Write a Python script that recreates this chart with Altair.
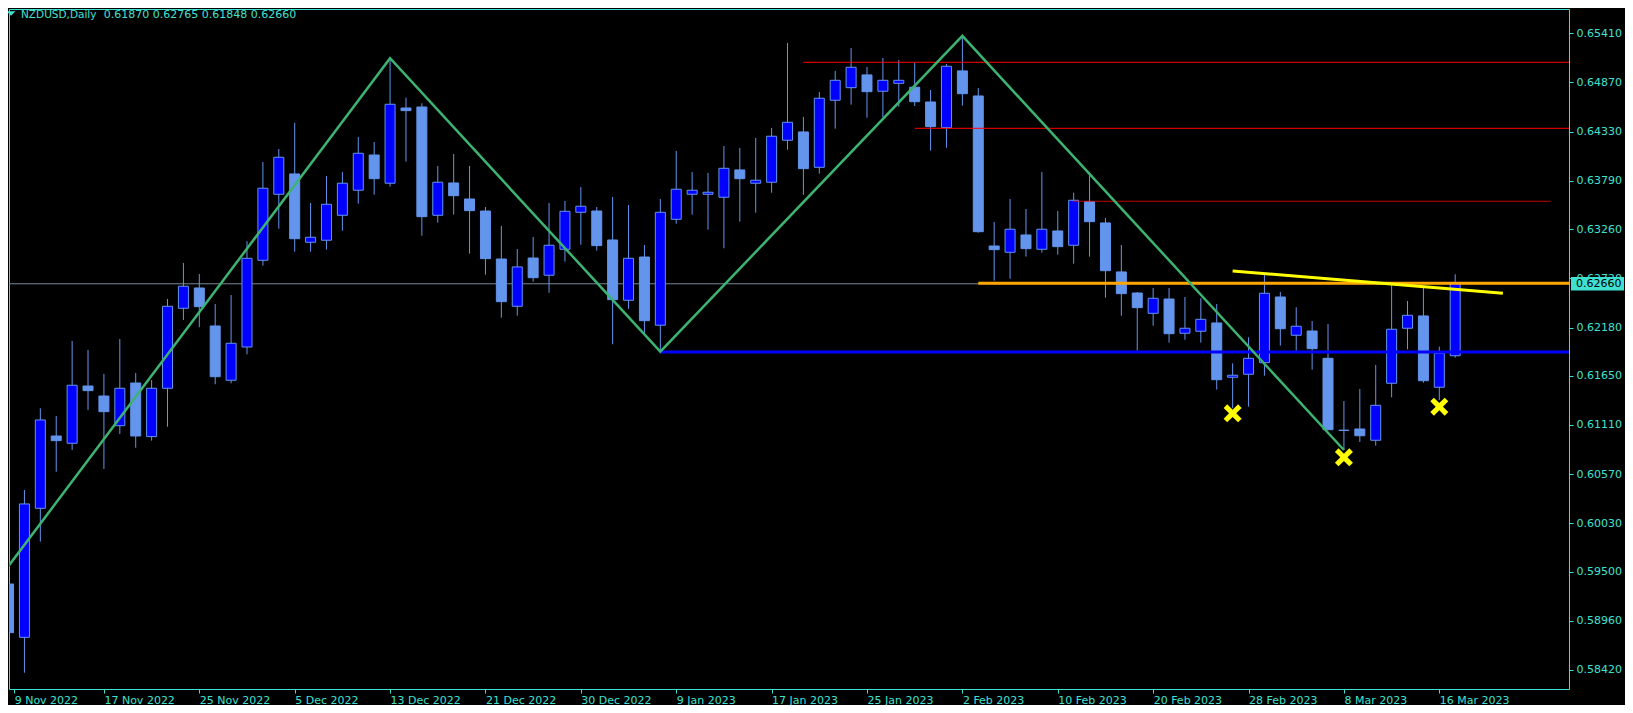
import altair as alt
import pandas as pd

# ---------------- data ----------------
symbol = "NZDUSD"
timeframe = "Daily"

opens = [0.59364, 0.58779, 0.60195, 0.60989, 0.60909, 0.61538, 0.61428, 0.61102, 0.61571, 0.60982,
         0.61513, 0.62391, 0.62614, 0.62197, 0.61601, 0.61966, 0.62918, 0.63643, 0.63866, 0.63116,
         0.63138, 0.63412, 0.63687, 0.64074, 0.63764, 0.64590, 0.64601, 0.63412, 0.63767, 0.63591,
         0.63459, 0.62932, 0.62413, 0.62943, 0.62754, 0.63039, 0.63445, 0.63459, 0.63141, 0.62479,
         0.62954, 0.62205, 0.63368, 0.63643, 0.63643, 0.63610, 0.63910, 0.63764, 0.63775, 0.64236,
         0.64327, 0.63939, 0.64675, 0.64813, 0.64953, 0.64774, 0.64861, 0.64818, 0.64656, 0.64374,
         0.64997, 0.64722, 0.63075, 0.63006, 0.63196, 0.63039, 0.63240, 0.63083, 0.63562, 0.63328,
         0.62790, 0.62559, 0.62336, 0.62493, 0.62117, 0.62139, 0.62230, 0.61634, 0.61667, 0.61794,
         0.62515, 0.62095, 0.62142, 0.61842, 0.61053, 0.61066, 0.60942, 0.61568, 0.62172, 0.62307,
         0.61524, 0.61870]

highs = [0.59683, 0.60396, 0.61293, 0.61209, 0.62032, 0.61933, 0.61670, 0.62054, 0.61681, 0.61604,
         0.62493, 0.62889, 0.62768, 0.62438, 0.62537, 0.63127, 0.63997, 0.64140, 0.64426, 0.63547,
         0.63844, 0.63888, 0.64272, 0.64217, 0.65136, 0.64703, 0.64642, 0.63954, 0.64085, 0.63954,
         0.63503, 0.63295, 0.63042, 0.63174, 0.63547, 0.63569, 0.63723, 0.63503, 0.63613, 0.63525,
         0.63086, 0.63591, 0.64118, 0.63888, 0.63877, 0.64173, 0.64151, 0.64261, 0.64371, 0.65304,
         0.64492, 0.64766, 0.64997, 0.65249, 0.65040, 0.65139, 0.65117, 0.65088, 0.64788, 0.65073,
         0.65381, 0.64810, 0.63339, 0.63591, 0.63481, 0.63888, 0.63459, 0.63660, 0.63884, 0.63383,
         0.63086, 0.62570, 0.62614, 0.62614, 0.62515, 0.62501, 0.62438, 0.61787, 0.62073, 0.62757,
         0.62570, 0.62402, 0.62252, 0.62219, 0.61373, 0.61505, 0.61769, 0.62669, 0.62471, 0.62622,
         0.61970, 0.62765]

lows = [0.58717, 0.58390, 0.59829, 0.60597, 0.60835, 0.61275, 0.60627, 0.61011, 0.60861, 0.60938,
        0.61091, 0.62263, 0.62183, 0.61557, 0.61568, 0.61886, 0.62859, 0.63265, 0.63013, 0.63013,
        0.63035, 0.63243, 0.63540, 0.63638, 0.63726, 0.64001, 0.63188, 0.63331, 0.63419, 0.62991,
        0.62760, 0.62288, 0.62310, 0.62683, 0.62562, 0.62903, 0.63089, 0.63024, 0.61996, 0.62384,
        0.62117, 0.61915, 0.63320, 0.63419, 0.63254, 0.63050, 0.63342, 0.63441, 0.63660, 0.64132,
        0.63638, 0.63869, 0.64363, 0.64627, 0.64484, 0.64488, 0.64605, 0.64612, 0.64122, 0.64154,
        0.64616, 0.63221, 0.62694, 0.62716, 0.62958, 0.63002, 0.62980, 0.62881, 0.62958, 0.62508,
        0.62310, 0.61926, 0.62200, 0.62014, 0.62046, 0.62014, 0.61498, 0.61293, 0.61311, 0.61651,
        0.61981, 0.61926, 0.61717, 0.61055, 0.60835, 0.60923, 0.60883, 0.61414, 0.61941, 0.61574,
        0.61384, 0.61848]

closes = [0.58830, 0.60243, 0.61165, 0.60938, 0.61546, 0.61487, 0.61256, 0.61513, 0.60989, 0.61513,
          0.62413, 0.62633, 0.62409, 0.61640, 0.62007, 0.62940, 0.63709, 0.64049, 0.63155, 0.63171,
          0.63533, 0.63764, 0.64093, 0.63814, 0.64631, 0.64561, 0.63397, 0.63775, 0.63627, 0.63463,
          0.62936, 0.62464, 0.62845, 0.62727, 0.63083, 0.63456, 0.63511, 0.63079, 0.62486, 0.62940,
          0.62255, 0.63445, 0.63698, 0.63687, 0.63665, 0.63928, 0.63814, 0.63797, 0.64280, 0.64433,
          0.63924, 0.64697, 0.64894, 0.65037, 0.64769, 0.64894, 0.64894, 0.64659, 0.64385, 0.65048,
          0.64747, 0.63232, 0.63035, 0.63259, 0.63046, 0.63259, 0.63068, 0.63577, 0.63342, 0.62804,
          0.62552, 0.62398, 0.62501, 0.62112, 0.62172, 0.62270, 0.61607, 0.61656, 0.61842, 0.62556,
          0.62167, 0.62194, 0.61948, 0.61058, 0.61050, 0.60992, 0.61326, 0.62161, 0.62314, 0.61596,
          0.61897, 0.62660]

date_labels = ["9 Nov 2022", "17 Nov 2022", "25 Nov 2022", "5 Dec 2022", "13 Dec 2022",
               "21 Dec 2022", "30 Dec 2022", "9 Jan 2023", "17 Jan 2023", "25 Jan 2023",
               "2 Feb 2023", "10 Feb 2023", "20 Feb 2023", "28 Feb 2023", "8 Mar 2023",
               "16 Mar 2023"]
bars_per_label = 6

price_ticks = [0.65410, 0.64870, 0.64330, 0.63790, 0.63260, 0.62720, 0.62180,
               0.61650, 0.61110, 0.60570, 0.60030, 0.59500, 0.58960, 0.58420]

# zigzag (bar index, price)
zigzag_bar = [-0.094, 24, 41, 60, 84]
zigzag_price = [0.59540, 0.65136, 0.61915, 0.65381, 0.60835]

# red horizontal levels
red_price = [0.65092, 0.64367, 0.63566]
red_start = [50, 57, 67]
red_end = [99, 99, 97]

# orange / blue levels
orange_price = [0.62665]
orange_start = [61]
blue_price = [0.61910]
blue_start = [41]

# yellow trend line
trend_bar = [77, 94]
trend_price = [0.62801, 0.62556]

# yellow cross markers
cross_bar = [77, 84, 90]
cross_price = [0.61238, 0.60755, 0.61311]

# ---------------- tables ----------------
n = len(opens)
candles = pd.DataFrame({"bar": list(range(n)), "open": opens, "high": highs,
                        "low": lows, "close": closes})
candles["dir"] = ["up" if c >= o else "down" for o, c in zip(opens, closes)]

bid = closes[-1]
grey_df = pd.DataFrame({"price": [bid], "start": [-2], "end": [n + 8]})
red_df = pd.DataFrame({"price": red_price, "start": red_start, "end": red_end})
orange_df = pd.DataFrame({"price": orange_price, "start": orange_start, "end": [n + 8]})
blue_df = pd.DataFrame({"price": blue_price, "start": blue_start, "end": [n + 8]})
zz_df = pd.DataFrame({"bar": zigzag_bar, "price": zigzag_price})
trend_df = pd.DataFrame({"bar": trend_bar, "price": trend_price})
cross_df = pd.DataFrame({"bar": cross_bar, "price": cross_price})
name_df = pd.DataFrame({"t": [f"{symbol},{timeframe}"]})
ohlc_df = pd.DataFrame({"t": [f"{opens[-1]:.5f} {highs[-1]:.5f} {lows[-1]:.5f} {closes[-1]:.5f}"]})
tag_df = pd.DataFrame({"price": [bid], "label": [f"{bid:.5f}"]})

# ---------------- styling ----------------
FG = "#40E0D0"
FONT = "DejaVu Sans"
W, H = 1560, 680
X_MIN, X_MAX = 0.34375, 97.84375

# first date tick sits just left of the visible area; keep its label at the left edge
tick_bars = [max(k * bars_per_label, X_MIN + 0.01) for k in range(len(date_labels))]
label_expr = "[" + ",".join(f"'{d}'" for d in date_labels) + f"][round(datum.value/{bars_per_label})]"

X_SCALE = alt.Scale(domain=[X_MIN, X_MAX], nice=False, zero=False)
Y_SCALE = alt.Scale(domain=[0.582114, 0.656768], nice=False, zero=False)

x_axis = alt.Axis(values=tick_bars, labelExpr=label_expr, orient="bottom", title=None,
                  labelAlign="left", labelBaseline="top", labelPadding=1, tickSize=4,
                  labelFlush=False, labelOverlap=False)
y_axis = alt.Axis(values=price_ticks, format=".5f", orient="right", title=None,
                  labelAlign="left", labelBaseline="middle", labelPadding=3, tickSize=4,
                  labelFlush=False, labelOverlap=False)


def X(field):
    return alt.X(field, type="quantitative", scale=X_SCALE, axis=x_axis)


def Y(field):
    return alt.Y(field, type="quantitative", scale=Y_SCALE, axis=y_axis)


grey = alt.Chart(grey_df).mark_rule(color="#778899", strokeWidth=1, clip=True).encode(
    x=X("start"), x2="end", y=Y("price"))

wicks = alt.Chart(candles).mark_rule(color="#6495ED", strokeWidth=1, clip=True).encode(
    x=X("bar"), y=Y("low"), y2="high")

bodies = alt.Chart(candles).mark_bar(size=10, stroke="#6495ED", strokeWidth=1, clip=True,
                                     orient="vertical").encode(
    x=X("bar"), y=Y("open"), y2="close",
    fill=alt.Fill("dir:N", scale=alt.Scale(domain=["up", "down"], range=["#0000FF", "#6495ED"]),
                  legend=None))

orange = alt.Chart(orange_df).mark_rule(color="#FFA500", strokeWidth=3, clip=True).encode(
    x=X("start"), x2="end", y=Y("price"))

red_a = alt.Chart(red_df.iloc[:2]).mark_rule(color="#FF0000", strokeWidth=1, clip=True).encode(
    x=X("start"), x2="end", y=Y("price"))
red_b = alt.Chart(red_df.iloc[2:]).mark_rule(color="#FF0000", strokeWidth=1, opacity=0.75,
                                             clip=True).encode(
    x=X("start"), x2="end", y=Y("price"))

blue = alt.Chart(blue_df).mark_rule(color="#0000FF", strokeWidth=3, clip=True).encode(
    x=X("start"), x2="end", y=Y("price"))

zigzag = alt.Chart(zz_df).mark_line(color="#3CB371", strokeWidth=2.5, clip=True).encode(
    x=X("bar"), y=Y("price"), order="bar:Q")

trend = alt.Chart(trend_df).mark_line(color="#FFFF00", strokeWidth=3, clip=True).encode(
    x=X("bar"), y=Y("price"))

XPATH = "M-1,-0.6L-0.6,-1L0,-0.4L0.6,-1L1,-0.6L0.4,0L1,0.6L0.6,1L0,0.4L-0.6,1L-1,0.6L-0.4,0Z"
crosses = alt.Chart(cross_df).mark_point(shape=XPATH, size=324, filled=True, color="#FFFF00",
                                         opacity=1, strokeWidth=0, clip=True).encode(
    x=X("bar"), y=Y("price"))

TRI = "M-1,-0.5L1,-0.5L0,0.5Z"
tri = alt.Chart(name_df).mark_point(shape=TRI, size=81, filled=True, color=FG, opacity=1,
                                    strokeWidth=0).encode(x=alt.value(2), y=alt.value(4.5))
name = alt.Chart(name_df).mark_text(align="left", baseline="middle", font=FONT, fontSize=10.5,
                                    color=FG).encode(x=alt.value(12), y=alt.value(5.5), text="t:N")
ohlc = alt.Chart(ohlc_df).mark_text(align="left", baseline="middle", font=FONT, fontSize=11,
                                    color=FG).encode(x=alt.value(94.7), y=alt.value(5.5), text="t:N")

BOX = "M-1,-0.253L1,-0.253L1,0.253L-1,0.253Z"
tag_box = alt.Chart(tag_df).mark_point(shape=BOX, size=2809, filled=True, color=FG, opacity=1,
                                       strokeWidth=0, clip=False).encode(
    x=alt.value(1588.5), y=Y("price"))
tag_text = alt.Chart(tag_df).mark_text(align="left", baseline="middle", font=FONT, fontSize=11,
                                       color="black", clip=False).encode(
    x=alt.value(1567), y=Y("price"), text="label:N")

chart = alt.layer(grey, wicks, bodies, orange, red_a, red_b, blue, zigzag, trend, crosses,
                  tri, name, ohlc, tag_box, tag_text).properties(
    width=W, height=H, background="black",
    padding={"left": 1, "top": 1, "right": 56, "bottom": 16},
    autosize=alt.AutoSizeParams(type="none"),
).configure_view(stroke=FG, strokeWidth=1).configure_axis(
    domain=False, grid=False, labelColor=FG, tickColor=FG, labelFont=FONT, labelFontSize=11,
    ticks=True)

chart.save("out.html", embed_options={"renderer": "svg", "actions": False})
